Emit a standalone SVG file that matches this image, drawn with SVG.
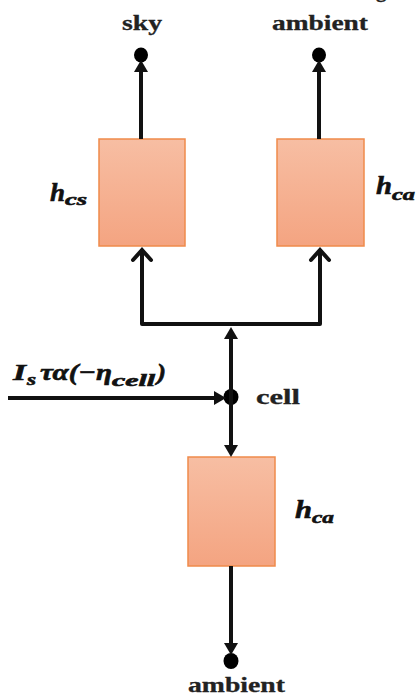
<svg xmlns="http://www.w3.org/2000/svg" width="416" height="697" viewBox="0 0 416 697">
<style>
.box{stroke:#EF8B4B;stroke-width:1.5;fill:url(#bg)}
.ln{stroke:#111;stroke-width:4;fill:none}
.dot{fill:#000}
.lbl{font-family:"Liberation Serif",serif;font-weight:bold;fill:#222;font-size:21px;stroke:#222;stroke-width:0.3}
.m{font-family:"Liberation Serif",serif;font-weight:bold;font-style:italic;fill:#111;stroke:#111;stroke-width:0.6}
</style>
<defs>
<linearGradient id="bg" x1="0" y1="0" x2="0" y2="1">
<stop offset="0" stop-color="#F7BEA3"/>
<stop offset="1" stop-color="#F4A481"/>
</linearGradient>
<marker id="fa" markerUnits="userSpaceOnUse" viewBox="0 0 12 14" markerWidth="12" markerHeight="14" refX="5" refY="7" orient="auto">
<path d="M0,0 L12,7 L0,14 z" fill="#111"/>
</marker>
<marker id="oa" markerUnits="userSpaceOnUse" markerWidth="20" markerHeight="24" refX="10" refY="9" orient="auto" overflow="visible">
<path d="M0,0 L10,9 L0,18" fill="none" stroke="#111" stroke-width="4" stroke-linecap="round"/>
</marker>
</defs>
<text class="lbl" x="376" y="-3">g</text>
<g id="sky">
<text class="lbl" x="122" y="30" textLength="40" lengthAdjust="spacingAndGlyphs">sky</text>
<ellipse class="dot" cx="141" cy="55" rx="7" ry="7.5"/>
</g>
<g id="ambient-top">
<text class="lbl" x="272" y="30" textLength="96" lengthAdjust="spacingAndGlyphs">ambient</text>
<ellipse class="dot" cx="319" cy="55" rx="7" ry="7.5"/>
</g>
<g id="hcs">
<rect class="box" x="99" y="139" width="86" height="107"/>
<text class="m" x="50" y="201" font-size="26" textLength="15" lengthAdjust="spacingAndGlyphs">h</text>
<text class="m" x="65" y="205" font-size="17" textLength="22" lengthAdjust="spacingAndGlyphs">cs</text>
</g>
<g id="hca-top">
<rect class="box" x="277" y="139" width="87" height="107"/>
<text class="m" x="376" y="194" font-size="26" textLength="16" lengthAdjust="spacingAndGlyphs">h</text>
<text class="m" x="392" y="200" font-size="17" textLength="23" lengthAdjust="spacingAndGlyphs">ca</text>
</g>
<g id="cell">
<ellipse class="dot" cx="231" cy="397" rx="7.5" ry="8"/>
<text class="lbl" x="256" y="404" textLength="44" lengthAdjust="spacingAndGlyphs">cell</text>
</g>
<g id="input">
<text class="m" x="13" y="380" font-size="24" textLength="13" lengthAdjust="spacingAndGlyphs">I</text>
<text class="m" x="27" y="385" font-size="16" textLength="9" lengthAdjust="spacingAndGlyphs">s</text>
<text class="m" x="40" y="380" font-size="24" textLength="72" lengthAdjust="spacingAndGlyphs">τα(−η</text>
<text class="m" x="112" y="386" font-size="16" textLength="43" lengthAdjust="spacingAndGlyphs">cell</text>
<text class="m" x="157" y="380" font-size="24" textLength="9" lengthAdjust="spacingAndGlyphs">)</text>
</g>
<g id="hca-bottom">
<rect class="box" x="188" y="457" width="87" height="109"/>
<text class="m" x="295" y="518" font-size="26" textLength="17" lengthAdjust="spacingAndGlyphs">h</text>
<text class="m" x="312" y="523" font-size="17" textLength="22" lengthAdjust="spacingAndGlyphs">ca</text>
</g>
<g id="ambient-bottom">
<ellipse class="dot" cx="231" cy="661" rx="7.5" ry="8"/>
<text class="lbl" x="188" y="692" textLength="97" lengthAdjust="spacingAndGlyphs">ambient</text>
</g>
<g id="connectors">
<path class="ln" d="M141,139 V67" marker-end="url(#fa)"/>
<path class="ln" d="M319,139 V67" marker-end="url(#fa)"/>
<path class="ln" d="M231,324 H142 V250" marker-end="url(#oa)" stroke-linejoin="round"/>
<path class="ln" d="M231,324 H320 V250" marker-end="url(#oa)" stroke-linejoin="round"/>
<path class="ln" d="M231,398 V334" marker-end="url(#fa)"/>
<path class="ln" d="M8,398 H219" marker-end="url(#fa)"/>
<path class="ln" d="M231,398 V450" marker-end="url(#fa)"/>
<path class="ln" d="M231,566 V648" marker-end="url(#fa)"/>
</g>
</svg>
